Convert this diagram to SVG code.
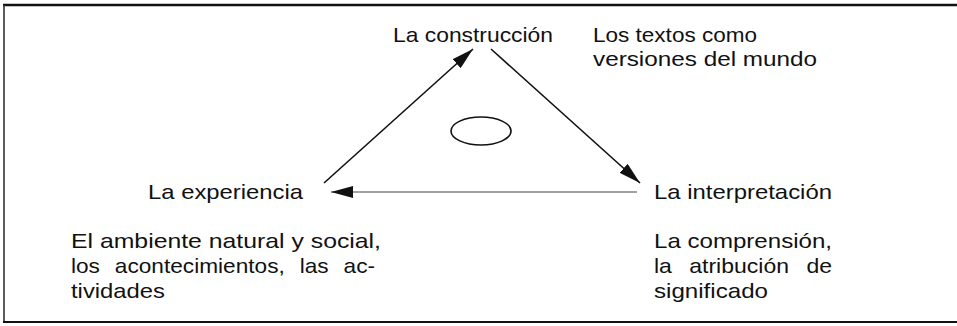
<svg xmlns="http://www.w3.org/2000/svg" width="957" height="326" viewBox="0 0 957 326">
<style>
text{font-family:"Liberation Sans",Arial,sans-serif;font-size:21px;fill:#111}
.ln{stroke:#111;stroke-width:1.6;fill:none}
</style>
<defs>
<marker id="ah" viewBox="0 0 22 12" refX="22" refY="6" markerWidth="22" markerHeight="12" markerUnits="userSpaceOnUse" orient="auto">
<path d="M0,0 L22,6 L0,12 Z" fill="#111"/>
</marker>
</defs>
<rect width="957" height="326" fill="#fff"/>
<g id="frame">
<line x1="3" y1="5" x2="957" y2="5" stroke="#111" stroke-width="2.5"/>
<line x1="4" y1="5" x2="4" y2="322" stroke="#333" stroke-width="1.6"/>
<line x1="3" y1="322" x2="957" y2="322" stroke="#111" stroke-width="2"/>
</g>
<g id="connectors">
<line class="ln" x1="324" y1="183" x2="473" y2="49" marker-end="url(#ah)"/>
<line class="ln" x1="491" y1="49" x2="640" y2="183" marker-end="url(#ah)"/>
<line x1="637" y1="192" x2="331" y2="192" stroke="#444" stroke-width="1.1" marker-end="url(#ah)"/>
</g>
<g id="center">
<ellipse cx="481" cy="131" rx="30" ry="14" class="ln"/>
</g>
<g id="construccion">
<text x="393" y="42" textLength="160" lengthAdjust="spacingAndGlyphs">La construcción</text>
<text x="593" y="42" textLength="164" lengthAdjust="spacingAndGlyphs">Los textos como</text>
<text x="593" y="66" textLength="224" lengthAdjust="spacingAndGlyphs">versiones del mundo</text>
</g>
<g id="experiencia">
<text x="148" y="199" textLength="155" lengthAdjust="spacingAndGlyphs">La experiencia</text>
<text x="71" y="248" textLength="310" lengthAdjust="spacingAndGlyphs">El ambiente natural y social,</text>
<text x="71" y="273" textLength="304" lengthAdjust="spacingAndGlyphs" word-spacing="8">los acontecimientos, las ac-</text>
<text x="71" y="298" textLength="94" lengthAdjust="spacingAndGlyphs">tividades</text>
</g>
<g id="interpretacion">
<text x="654" y="199" textLength="178" lengthAdjust="spacingAndGlyphs">La interpretación</text>
<text x="654" y="248" textLength="178" lengthAdjust="spacingAndGlyphs">La comprensión,</text>
<text x="654" y="273" textLength="178" lengthAdjust="spacingAndGlyphs" word-spacing="10">la atribución de</text>
<text x="654" y="298" textLength="114" lengthAdjust="spacingAndGlyphs">significado</text>
</g>
</svg>
